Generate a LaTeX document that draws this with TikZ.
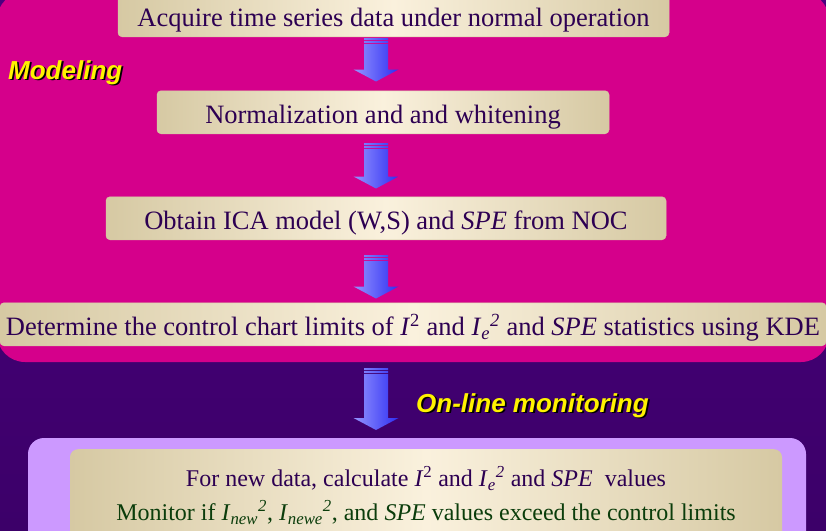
\documentclass[tikz,border=0pt]{standalone}
\usepackage{fontspec}
\setmainfont{Liberation Serif}
\newfontfamily\labelfont{Liberation Sans}
\usetikzlibrary{calc}

\definecolor{slidepurple}{HTML}{4A007F}
\definecolor{slidepurpledark}{HTML}{3C0069}
\definecolor{modelmagenta}{HTML}{D5008B}
\definecolor{monitorlilac}{HTML}{CC99FF}
\definecolor{boxedge}{HTML}{D6C9A3}
\definecolor{boxlight}{HTML}{FAF1DD}
\definecolor{boxtext}{HTML}{2D0052}
\definecolor{monitorgreen}{HTML}{0B3D0B}
\definecolor{arrowlight}{HTML}{9494FF}
\definecolor{arrowdark}{HTML}{2E2EF2}

\newcommand{\shadowed}[1]{\makebox[0pt][l]{\hspace{1.8pt}\raisebox{-1.8pt}{\color{black}#1}}#1}
\newcommand{\sq}{\textsuperscript{2}}

% block arrow with two bars on top, from #1 (top) to #2 (tip)
\newcommand{\blockarrow}[2]{%
  \path[arrowfill] let \p1=#1, \p2=#2 in
    (\x1-12pt,\y1) rectangle (\x1+12pt,\y1-2pt)
    (\x1-12pt,\y1-3pt) rectangle (\x1+12pt,\y1-5pt)
    (\x1-12pt,\y1-6pt) -- (\x1-12pt,\y2+12pt) -- (\x1-22.5pt,\y2+12pt)
      -- (\x1,\y2) -- (\x1+22.5pt,\y2+12pt) -- (\x1+12pt,\y2+12pt)
      -- (\x1+12pt,\y1-6pt) -- cycle;}

\begin{document}
\begin{tikzpicture}[x=1pt,y=-1pt,
	stepbox/.style={anchor=south,rounded corners=4pt,draw=boxedge,line width=0.5pt,
		left color=boxedge,right color=boxedge,middle color=boxlight,
		text=boxtext,font=\fontsize{26.5}{32}\selectfont,
		text height=30pt,text depth=7pt,inner ysep=3pt,inner xsep=4pt},
	monitorbox/.style={anchor=north,rounded corners=8pt,
		left color=boxedge,right color=boxedge,middle color=boxlight,
		text=boxtext,font=\fontsize{24}{34}\selectfont,align=center,
		minimum width=712pt,minimum height=93pt},
	phase/.style={font=\labelfont\bfseries\itshape\fontsize{26}{30}\selectfont,
		text=yellow,inner sep=0pt,anchor=base west},
	arrowfill/.style={left color=arrowlight,right color=arrowdark}]
	
	\useasboundingbox (0,0) rectangle (826,530);
	
	% background panels
	\shade[top color=slidepurple,bottom color=slidepurpledark] (0,0) rectangle (826,530);
	\fill[modelmagenta,rounded corners=28pt] (-3,-8) rectangle (829,362);
	\fill[monitorlilac,rounded corners=16pt] (28,438) rectangle (806,570);
	
	\coordinate (axis) at (376,0);
	
	% modeling steps
	\node[stepbox,minimum width=551pt] (acquire) at (393.5,37)
		{Acquire time series data under normal operation};
	\node[stepbox,minimum width=452pt] (normal) at (383,134)
		{Normalization and and whitening};
	\node[stepbox,minimum width=560pt] (ica) at (386,240)
		{Obtain ICA model (W,S) and \textit{SPE} from NOC};
	\node[stepbox,minimum width=826pt] (limits) at (413,346)
		{Determine the control chart limits of \textit{I}\sq{} and \textit{I}\textsubscript{\textit{e}}\textsuperscript{\textit{2}} and \textit{SPE} statistics using KDE};
	
	% on-line monitoring
	\node[monitorbox] (monitor) at (426,449)
		{For new data, calculate \textit{I}\sq{} and \textit{I}\textsubscript{\textit{e}}\textsuperscript{\textit{2}} and \textit{SPE}\ \ values\\
		{\color{monitorgreen}Monitor if \textit{I}\textsubscript{\textit{new}}\textsuperscript{\textit{2}}, \textit{I}\textsubscript{\textit{newe}}\textsuperscript{\textit{2}}, and \textit{SPE} values exceed the control limits}};
	
	\node[phase] (modeling) at (8,79) {\shadowed{Modeling}};
	\node[phase] (online) at (416,412) {\shadowed{On-line monitoring}};
	
	% arrows
	\blockarrow{($(acquire.south -| axis)+(0,1)$)}{($(normal.north -| axis)+(0,-9)$)}
	\blockarrow{($(normal.south -| axis)+(0,9)$)}{($(ica.north -| axis)+(0,-8)$)}
	\blockarrow{($(ica.south -| axis)+(0,15)$)}{($(limits.north -| axis)+(0,-4)$)}
	\blockarrow{($(limits.south -| axis)+(0,22)$)}{($(monitor.north -| axis)+(0,-19)$)}
\end{tikzpicture}
\end{document}
